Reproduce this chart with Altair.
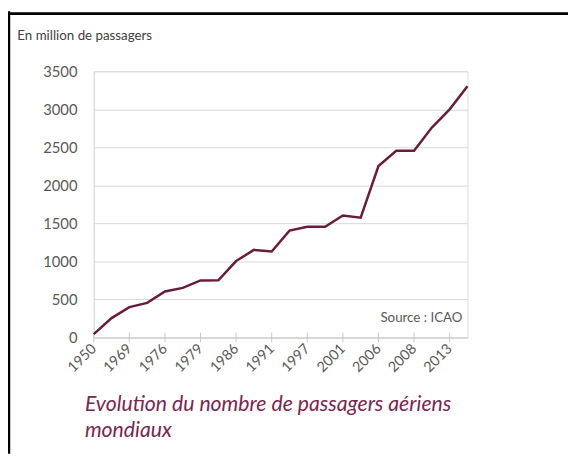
import json
import altair as alt
import pandas as pd

# --- data ---
point_index = list(range(22))
passengers = [45, 255, 400, 455, 605, 652, 750, 752, 1005, 1152, 1130, 1405,
              1455, 1455, 1605, 1575, 2255, 2455, 2455, 2760, 3000, 3305]
tick_index = list(range(0, 21, 2))
tick_labels = ["1950", "1969", "1976", "1979", "1986", "1991",
               "1997", "2001", "2006", "2008", "2013"]
y_ticks = [0, 500, 1000, 1500, 2000, 2500, 3000, 3500]
title_lines = ["Evolution du nombre de passagers aériens", "mondiaux"]

df = pd.DataFrame({"i": point_index, "v": passengers})
ticks_df = pd.DataFrame({"i": tick_index})

FONT = "Lato"
GRAY = "#595959"
LINE = "#6a1c3c"
TITLE = "#7a2650"

W, H = 379, 270
PL, PT = 87, 61
CW, CH = 568, 449

label_expr = json.dumps(tick_labels) + "[round(datum.value / 2)]"

x_scale = alt.Scale(type="point", domain=point_index, padding=0)
x_enc = alt.X(
    "i:O",
    scale=x_scale,
    axis=alt.Axis(
        values=tick_index, labelExpr=label_expr, labelAngle=315,
        labelAlign="right", labelBaseline="middle", labelPadding=9,
        labelFont=FONT, labelFontSize=14.5, labelColor=GRAY,
        ticks=False, grid=False, domainColor="#c8c8c8", title=None,
        labelOverlap=False,
    ),
)
y_enc = alt.Y(
    "v:Q",
    scale=alt.Scale(domain=[0, 3500], nice=False),
    axis=alt.Axis(
        values=y_ticks, format="d", labelFont=FONT, labelFontSize=15,
        labelColor=GRAY, labelPadding=17, ticks=False, grid=True,
        gridColor="#d9d9d9", domainColor="#d9d9d9",
        title="En million de passagers", titleAngle=0, titleX=-78, titleY=-36,
        titleAlign="left", titleBaseline="middle", titleFont=FONT,
        titleFontSize=13.5, titleFontWeight="normal", titleColor="#404040",
    ),
)

line = alt.Chart(df).mark_line(color=LINE, strokeWidth=2.5).encode(x=x_enc, y=y_enc)

tick_marks = alt.Chart(ticks_df).mark_rule(color="#c8c8c8", strokeWidth=1).encode(
    x=alt.X("i:O", scale=x_scale), y=alt.value(H - 5), y2=alt.value(H + 5)
)

source = alt.Chart(pd.DataFrame({"t": ["Source : ICAO"]})).mark_text(
    align="right", baseline="middle", font=FONT, fontSize=13.5, color=GRAY
).encode(text="t:N", x=alt.value(374), y=alt.value(250))

title1 = alt.Chart(pd.DataFrame({"t": [title_lines[0]]})).mark_text(
    align="left", baseline="middle", font=FONT, fontSize=21.5, fontStyle="italic",
    color=TITLE
).encode(text="t:N", x=alt.value(-9), y=alt.value(339))
title2 = alt.Chart(pd.DataFrame({"t": [title_lines[1]]})).mark_text(
    align="left", baseline="middle", font=FONT, fontSize=21.5, fontStyle="italic",
    color=TITLE
).encode(text="t:N", x=alt.value(-9), y=alt.value(365))

frame_top = alt.Chart(pd.DataFrame({"a": [0]})).mark_rule(color="black", strokeWidth=3).encode(
    x=alt.value(-PL), x2=alt.value(CW - PL), y=alt.value(2.5 - PT)
)
frame_left = alt.Chart(pd.DataFrame({"a": [0]})).mark_rule(color="black", strokeWidth=2.5).encode(
    x=alt.value(1 - PL), y=alt.value(-PT), y2=alt.value(CH - PT)
)

chart = alt.layer(tick_marks, line, source, title1, title2, frame_top, frame_left).properties(
    width=W, height=H,
    autosize=alt.AutoSizeParams(type="none"),
    padding={"left": PL, "top": PT, "right": CW - PL - W, "bottom": CH - PT - H},
).configure_view(stroke=None).configure(background="white")

chart.save("out.html", embed_options={"renderer": "svg", "actions": False})
